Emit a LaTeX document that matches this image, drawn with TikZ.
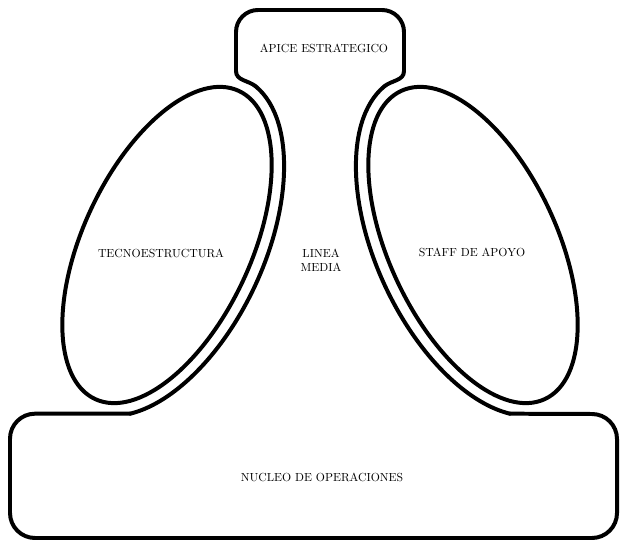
\documentclass[tikz,border=0pt]{standalone}
\usepackage{tikz}
\tikzset{outline/.style={draw, line width=3.4pt, line cap=round, line join=round},
    partname/.style={align=center, inner sep=1pt, font=\normalsize}}

\begin{document}
\begin{tikzpicture}[x=0.3mm, y=0.3mm]
  \useasboundingbox (0,0) rectangle (621,541);

  % Lobes with their bands
  \begin{scope}[shift={(167,296)}, rotate=65]
    \draw[outline] (0,0) ellipse [x radius=170, y radius=84];
    \coordinate (lbtop) at (-8:183 and 97);
    \coordinate (lbbot) at (-157:183 and 97);
    \draw[outline] (lbtop) arc [start angle=-8, end angle=-157, x radius=183, y radius=97];
  \end{scope}
  \begin{scope}[shift={(473,296)}, rotate=115]
    \draw[outline] (0,0) ellipse [x radius=170, y radius=84];
    \coordinate (rbtop) at (8:183 and 97);
    \coordinate (rbbot) at (157:183 and 97);
    \draw[outline] (rbtop) arc [start angle=8, end angle=157, x radius=183, y radius=97];
  \end{scope}

  % Apex
  \draw[outline] (lbtop) to[out=140, in=-90] (236,470) -- (236,509)
    arc [start angle=180, end angle=90, radius=22] -- (382,531)
    arc [start angle=90, end angle=0, radius=22] -- (404,470)
    to[out=-90, in=40] (rbtop);

  % Operating core
  \draw[outline] (lbbot) -- (lbbot -| 35,0) arc [start angle=90, end angle=180, radius=25]
    -- (10,28) arc [start angle=180, end angle=270, radius=25]
    -- (592,3) arc [start angle=270, end angle=360, radius=25]
    -- (617,102) arc [start angle=0, end angle=90, radius=25] -- (rbbot);

  % Nodes
  \node[partname] (apex)   at (324,493) {APICE ESTRATEGICO};
  \node[partname] (techno) at (161,288) {TECNOESTRUCTURA};
  \node[partname] (middle) at (321,281) {LINEA\\MEDIA};
  \node[partname] (staff)  at (472,289) {STAFF DE APOYO};
  \node[partname] (core)   at (322,64)  {NUCLEO DE OPERACIONES};
\end{tikzpicture}
\end{document}
